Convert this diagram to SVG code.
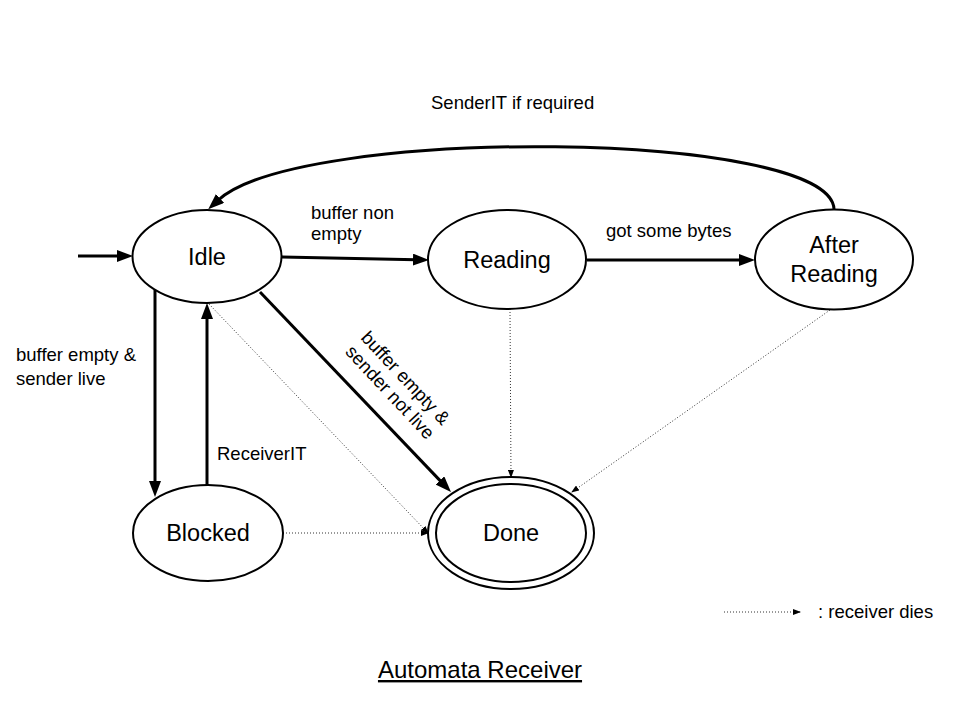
<svg xmlns="http://www.w3.org/2000/svg" width="960" height="720" viewBox="0 0 960 720">
<defs>
<style>
.node{fill:#fff;stroke:#000;stroke-width:2}
.nl{font-family:"Liberation Sans",Arial,sans-serif;font-size:23.5px;fill:#000;text-anchor:middle}
.el{font-family:"Liberation Sans",Arial,sans-serif;font-size:18.5px;fill:#000}
.thick{fill:none;stroke:#000;stroke-width:3}
.dot{fill:none;stroke:#333;stroke-width:1;stroke-dasharray:1,2}
</style>
<marker id="ah" markerUnits="userSpaceOnUse" markerWidth="16" markerHeight="12" refX="3" refY="6" orient="auto">
<path d="M0,0 L16,6 L0,12 z" fill="#000"/>
</marker>
<marker id="dh" markerUnits="userSpaceOnUse" markerWidth="8" markerHeight="6" refX="7" refY="3" orient="auto">
<path d="M0,0 L8,3 L0,6 z" fill="#000"/>
</marker>
</defs>
<rect width="960" height="720" fill="#fff"/>
<g id="connectors">
<line class="thick" x1="78" y1="256" x2="120" y2="256" marker-end="url(#ah)"/>
<line class="thick" x1="282" y1="257" x2="416" y2="259.7" marker-end="url(#ah)"/>
<line class="thick" x1="587" y1="260" x2="742" y2="260" marker-end="url(#ah)"/>
<path class="thick" d="M834,209 C830,130 300,125 217.8,200.5" marker-end="url(#ah)"/>
<line class="thick" x1="155" y1="290" x2="155" y2="484" marker-end="url(#ah)"/>
<line class="thick" x1="207" y1="485" x2="207" y2="316" marker-end="url(#ah)"/>
<line class="thick" x1="260" y1="292" x2="442" y2="482.6" marker-end="url(#ah)"/>
<line class="dot" x1="209" y1="304" x2="428" y2="533" marker-end="url(#dh)"/>
<line class="dot" x1="283" y1="533" x2="428" y2="533" marker-end="url(#dh)"/>
<line class="dot" x1="510" y1="309" x2="511" y2="477" marker-end="url(#dh)"/>
<line class="dot" x1="830" y1="310" x2="572" y2="492" marker-end="url(#dh)"/>
<line class="dot" x1="724" y1="612" x2="800" y2="612" marker-end="url(#dh)"/>
<text class="el" x="431" y="109">SenderIT if required</text>
<text class="el" x="311" y="219">buffer non</text>
<text class="el" x="311" y="240">empty</text>
<text class="el" x="606" y="237">got some bytes</text>
<text class="el" x="16" y="361">buffer empty &amp;</text>
<text class="el" x="16" y="385">sender live</text>
<text class="el" x="217" y="460">ReceiverIT</text>
<g transform="translate(398,385) rotate(47)">
<text class="el" x="0" y="-4" text-anchor="middle">buffer empty &amp;</text>
<text class="el" x="0" y="17" text-anchor="middle">sender not live</text>
</g>
</g>
<g id="idle"><ellipse class="node" cx="207" cy="256.5" rx="74.5" ry="46.5"/><text class="nl" x="207" y="265">Idle</text></g>
<g id="reading"><ellipse class="node" cx="507" cy="259.5" rx="79" ry="49.5"/><text class="nl" x="507" y="268">Reading</text></g>
<g id="after-reading"><ellipse class="node" cx="834" cy="259.5" rx="79" ry="50"/><text class="nl" x="834" y="253">After</text><text class="nl" x="834" y="282">Reading</text></g>
<g id="blocked"><ellipse class="node" cx="208" cy="533" rx="75" ry="48"/><text class="nl" x="208" y="541">Blocked</text></g>
<g id="done"><ellipse class="node" cx="511" cy="533" rx="83" ry="56"/><ellipse class="node" cx="511" cy="533" rx="75" ry="49"/><text class="nl" x="511" y="541">Done</text></g>
<g id="legend"><text class="el" x="818" y="618">: receiver dies</text></g>
<g id="title"><text x="480" y="678" text-anchor="middle" font-family="Liberation Sans, Arial, sans-serif" font-size="24" text-decoration="underline">Automata Receiver</text></g>
</svg>
